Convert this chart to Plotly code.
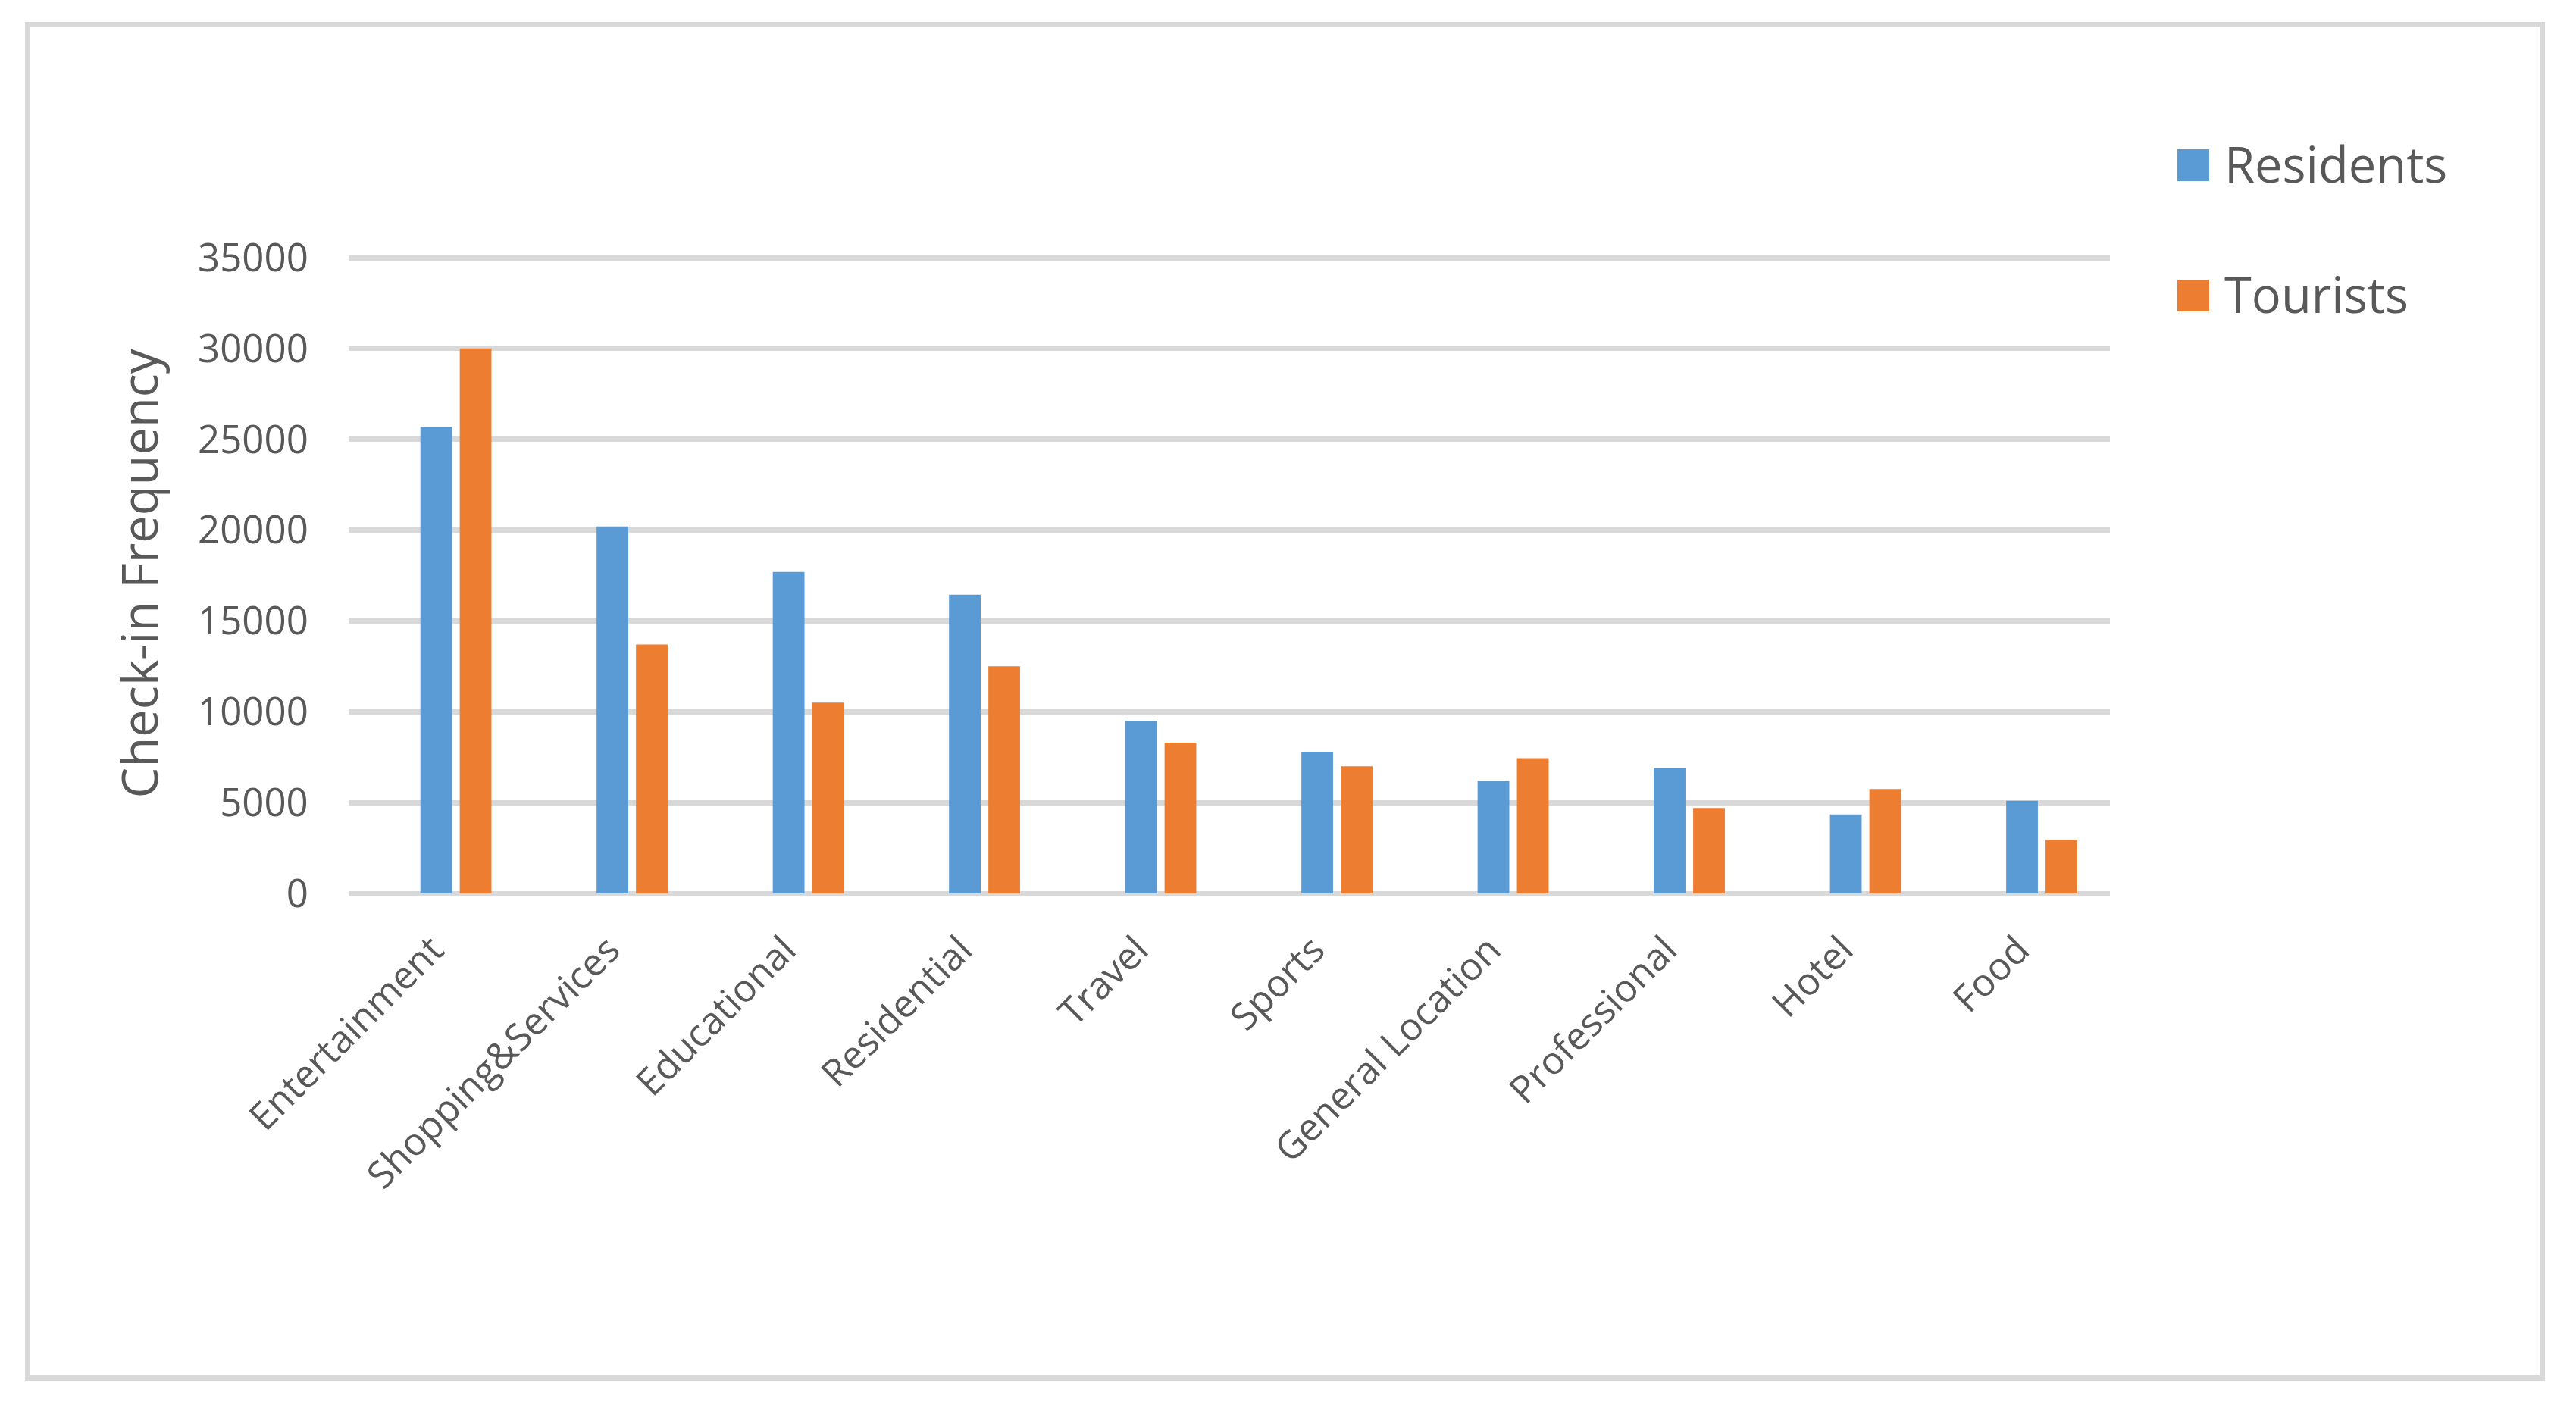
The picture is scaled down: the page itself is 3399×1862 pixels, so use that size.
import plotly.graph_objects as go

categories = ["Entertainment", "Shopping&Services", "Educational", "Residential", "Travel",
              "Sports", "General Location", "Professional", "Hotel", "Food"]
residents = [25700, 20200, 17700, 16450, 9500, 7800, 6200, 6900, 4350, 5100]
tourists = [30000, 13700, 10500, 12500, 8300, 7000, 7450, 4700, 5750, 2950]
series_names = ["Residents", "Tourists"]
series_colors = ["#5B9BD5", "#ED7D31"]
y_ticks = [0, 5000, 10000, 15000, 20000, 25000, 30000, 35000]

# page is offset by the 8px default body margin
OFF = 8
W, H = 3399 - 2 * OFF, 1862 - 2 * OFF
L = 460 - OFF
PLOT_RIGHT = 2784 - OFF
PLOT_BOTTOM = 1179 - OFF
Y35K = 340 - OFF
T = Y35K - 5
R = W - PLOT_RIGHT
B = H - PLOT_BOTTOM
PW = W - L - R
PH = H - T - B
YMAX = 35000 * PH / (PLOT_BOTTOM - Y35K)

TXT = "#595959"
GRID = "#D9D9D9"
FONT = "Open Sans"


def px(x):
    return (x - OFF - L) / PW


def py(y):
    return (PLOT_BOTTOM - (y - OFF)) / PH


fig = go.Figure()
for name, vals, col in zip(series_names, [residents, tourists], series_colors):
    fig.add_trace(go.Bar(x=categories, y=vals, name=name, marker_color=col,
                         marker_line_width=0, showlegend=False))

shapes = []
annotations = []
# outer frame
shapes.append(dict(type="rect", xref="paper", yref="paper",
                   x0=px(36.5), x1=px(3354.5), y0=py(32.5), y1=py(1818.5),
                   line=dict(color=GRID, width=7), fillcolor="rgba(0,0,0,0)", layer="below"))
# manual legend
leg_centers = [218, 390]
for name, col, cy in zip(series_names, series_colors, leg_centers):
    shapes.append(dict(type="rect", xref="paper", yref="paper",
                       x0=px(2873), x1=px(2915), y0=py(cy + 21), y1=py(cy - 21),
                       line=dict(width=0), fillcolor=col))
    annotations.append(dict(text=name, xref="paper", yref="paper", x=px(2933), y=py(cy - 2),
                            xanchor="left", yanchor="middle", showarrow=False,
                            font=dict(family=FONT, size=65, color=TXT)))

fig.update_layout(
    width=W, height=H,
    margin=dict(l=L, r=R, t=T, b=B, autoexpand=False),
    paper_bgcolor="white", plot_bgcolor="white",
    barmode="group", bargap=0.553, bargroupgap=0.195,
    shapes=shapes, annotations=annotations,
    font=dict(family=FONT, color=TXT),
    xaxis=dict(type="category", range=[-0.609, 9.387], showgrid=False, showline=False,
               zeroline=False, tickangle=-45, ticks="outside", ticklen=24,
               ticklabelshift=-31,
               tickcolor="rgba(0,0,0,0)", tickfont=dict(family=FONT, size=50, color=TXT),
               automargin=False),
    yaxis=dict(range=[0, YMAX], tickvals=y_ticks, ticktext=[str(v) for v in y_ticks],
               showgrid=True, gridcolor=GRID, gridwidth=7,
               zeroline=True, zerolinecolor=GRID, zerolinewidth=7, showline=False,
               ticks="outside", ticklen=42, tickcolor="rgba(0,0,0,0)",
               tickfont=dict(family=FONT, size=51, color=TXT),
               title=dict(text="Check-in Frequency", font=dict(family=FONT, size=65, color=TXT),
                          standoff=31),
               automargin=False),
)

fig.write_html("out.html")
